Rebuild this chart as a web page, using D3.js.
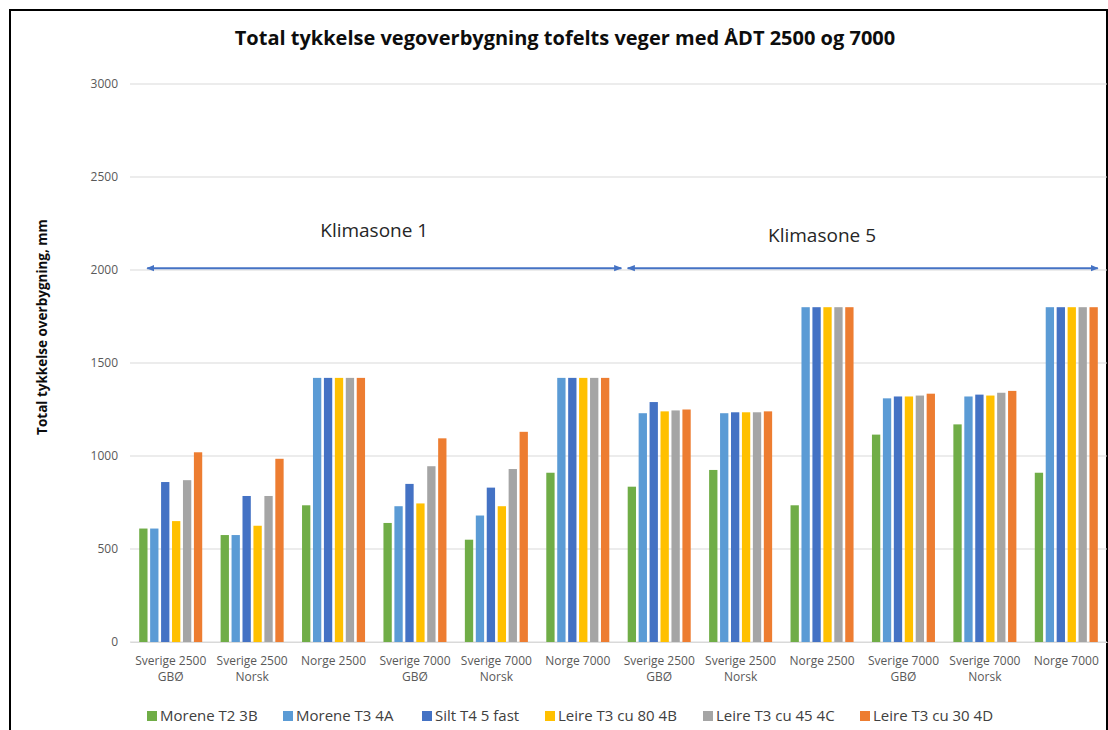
<!DOCTYPE html>
<html>
<head>
<meta charset="utf-8">
<script src="https://cdn.jsdelivr.net/npm/d3@7"></script>
<style>
body { margin: 0; background: #fff; }
svg { font-family: "Open Sans", sans-serif; }
.axis text { fill: #595959; font-size: 12px; }
.grid line { stroke: #d9d9d9; }
</style>
</head>
<body>
<svg width="1108" height="730"></svg>
<script>
const width = 1108
const height = 730
const margin = { top: 84, bottom: 88, left: 130, right: 1 }

const categories = [
  "Sverige 2500|GBØ", "Sverige 2500|Norsk", "Norge 2500",
  "Sverige 7000|GBØ", "Sverige 7000|Norsk", "Norge 7000",
  "Sverige 2500|GBØ ", "Sverige 2500|Norsk ", "Norge 2500 ",
  "Sverige 7000|GBØ ", "Sverige 7000|Norsk ", "Norge 7000 "
]
const seriesNames = ["Morene T2 3B", "Morene T3 4A", "Silt T4 5 fast",
  "Leire T3 cu 80 4B", "Leire T3 cu 45 4C", "Leire T3 cu 30 4D"]
const colors = ["#70ad47", "#5b9bd5", "#4472c4", "#ffc000", "#a5a5a5", "#ed7d31"]

// one array per series, one value per category
const moreneT2 = [610, 575, 735, 640, 550, 910, 835, 925, 735, 1115, 1170, 910]
const moreneT3 = [610, 575, 1420, 730, 680, 1420, 1230, 1230, 1800, 1310, 1320, 1800]
const siltT4 = [860, 785, 1420, 850, 830, 1420, 1290, 1235, 1800, 1320, 1330, 1800]
const leire80 = [650, 625, 1420, 745, 730, 1420, 1240, 1235, 1800, 1320, 1325, 1800]
const leire45 = [870, 785, 1420, 945, 930, 1420, 1245, 1235, 1800, 1325, 1340, 1800]
const leire30 = [1020, 985, 1420, 1095, 1130, 1420, 1250, 1240, 1800, 1335, 1350, 1800]
const seriesValues = [moreneT2, moreneT3, siltT4, leire80, leire45, leire30]

const yTicks = [0, 500, 1000, 1500, 2000, 2500, 3000]
const zones = [
  { label: "Klimasone 1", from: 0, to: 5 },
  { label: "Klimasone 5", from: 6, to: 11 }
]

const svg = d3.select("svg")

// frame round the whole picture
svg.append("rect")
  .attr("x", 10).attr("y", 10)
  .attr("width", 1097).attr("height", 740)
  .attr("fill", "none").attr("stroke", "#000").attr("stroke-width", 2)

const x0 = d3.scaleBand().domain(categories)
  .range([margin.left, width - margin.right])
  .paddingInner(0.226).paddingOuter(0.113)
const x1 = d3.scaleBand().domain(d3.range(seriesNames.length))
  .range([0, x0.bandwidth()]).paddingInner(0.24)
const y = d3.scaleLinear().domain([0, 3000])
  .range([height - margin.bottom, margin.top])

// gridlines
svg.append("g").attr("class", "grid")
  .selectAll("line").data(yTicks).enter().append("line")
  .attr("x1", margin.left).attr("x2", width - margin.right)
  .attr("y1", d => y(d)).attr("y2", d => y(d))

// y axis labels
const yAxis = d3.axisLeft(y).tickValues(yTicks).tickSize(0).tickPadding(12)
  .tickFormat(d3.format("d"))
svg.append("g").attr("class", "axis y")
  .attr("transform", "translate(" + margin.left + ",0)")
  .call(yAxis)
  .attr("font-family", null)
  .call(g => g.select(".domain").remove())

// bars
const groups = svg.append("g").selectAll("g.group")
  .data(categories).enter().append("g")
  .attr("class", "group")
  .attr("transform", d => "translate(" + x0(d) + ",0)")

groups.selectAll("rect")
  .data((d, i) => seriesValues.map((s, j) => ({ j: j, v: s[i] })))
  .enter().append("rect")
  .attr("x", d => x1(d.j))
  .attr("width", x1.bandwidth())
  .attr("y", d => y(d.v))
  .attr("height", d => y(0) - y(d.v))
  .attr("fill", d => colors[d.j])

// x axis labels, two lines
const xAxis = d3.axisBottom(x0).tickSize(0).tickPadding(14).tickFormat(() => "")
const gx = svg.append("g").attr("class", "axis x")
  .attr("transform", "translate(0," + y(0) + ")")
  .call(xAxis)
  .attr("font-family", null)
gx.select(".domain").attr("stroke", "#d9d9d9")
gx.selectAll(".tick text").each(function(d) {
  const lines = d.trim().split("|")
  const t = d3.select(this)
  lines.forEach((l, i) => {
    t.append("tspan").attr("x", 0).attr("dy", i === 0 ? "0.71em" : "1.35em").text(l)
  })
})

// zone arrows
const defs = svg.append("defs")
defs.append("marker").attr("id", "head")
  .attr("viewBox", "0 0 10 10").attr("refX", 9).attr("refY", 5)
  .attr("markerWidth", 4).attr("markerHeight", 4)
  .attr("orient", "auto-start-reverse")
  .append("path").attr("d", "M0,1 L10,5 L0,9 z").attr("fill", "#4472c4")

zones.forEach((z, i) => {
  const left = x0(categories[z.from]) + (i === 0 ? 8 : 0)
  const right = x0(categories[z.to]) + x0.bandwidth() + (i === 0 ? 12 : 0)
  svg.append("line")
    .attr("x1", left).attr("x2", right)
    .attr("y1", y(2010)).attr("y2", y(2010))
    .attr("stroke", "#4472c4").attr("stroke-width", 2)
    .attr("marker-start", "url(#head)").attr("marker-end", "url(#head)")
})
svg.append("text")
  .attr("x", x0(categories[3]) - (x0.step() - x0.bandwidth()) / 2)
  .attr("y", y(2000) - 33)
  .attr("text-anchor", "middle").attr("font-size", 19).attr("fill", "#262626")
  .text(zones[0].label)
svg.append("text")
  .attr("x", x0(categories[8]) + x0.bandwidth() / 2)
  .attr("y", y(2000) - 28)
  .attr("text-anchor", "middle").attr("font-size", 19).attr("fill", "#262626")
  .text(zones[1].label)

// title
svg.append("text")
  .attr("x", 565).attr("y", 45)
  .attr("text-anchor", "middle")
  .attr("font-size", 20).attr("font-weight", "bold").attr("fill", "#0d0d0d")
  .text("Total tykkelse vegoverbygning tofelts veger med ÅDT 2500 og 7000")

// y axis title
svg.append("text")
  .attr("transform", "translate(47," + 327 + ") rotate(-90)")
  .attr("text-anchor", "middle")
  .attr("font-size", 13.5).attr("font-weight", "bold").attr("fill", "#0d0d0d")
  .text("Total tykkelse overbygning, mm")

// legend
const legendX = [147, 283, 422, 545, 703, 860]
const legend = svg.append("g").attr("class", "legend")
  .selectAll("g").data(seriesNames).enter().append("g")
  .attr("transform", (d, i) => "translate(" + legendX[i] + ",716)")
legend.append("rect")
  .attr("x", 0).attr("y", -5).attr("width", 10).attr("height", 10)
  .attr("fill", (d, i) => colors[i])
legend.append("text")
  .attr("x", 13).attr("y", 5)
  .attr("font-size", 15).attr("fill", "#404040")
  .text(d => d)
</script>
</body>
</html>
